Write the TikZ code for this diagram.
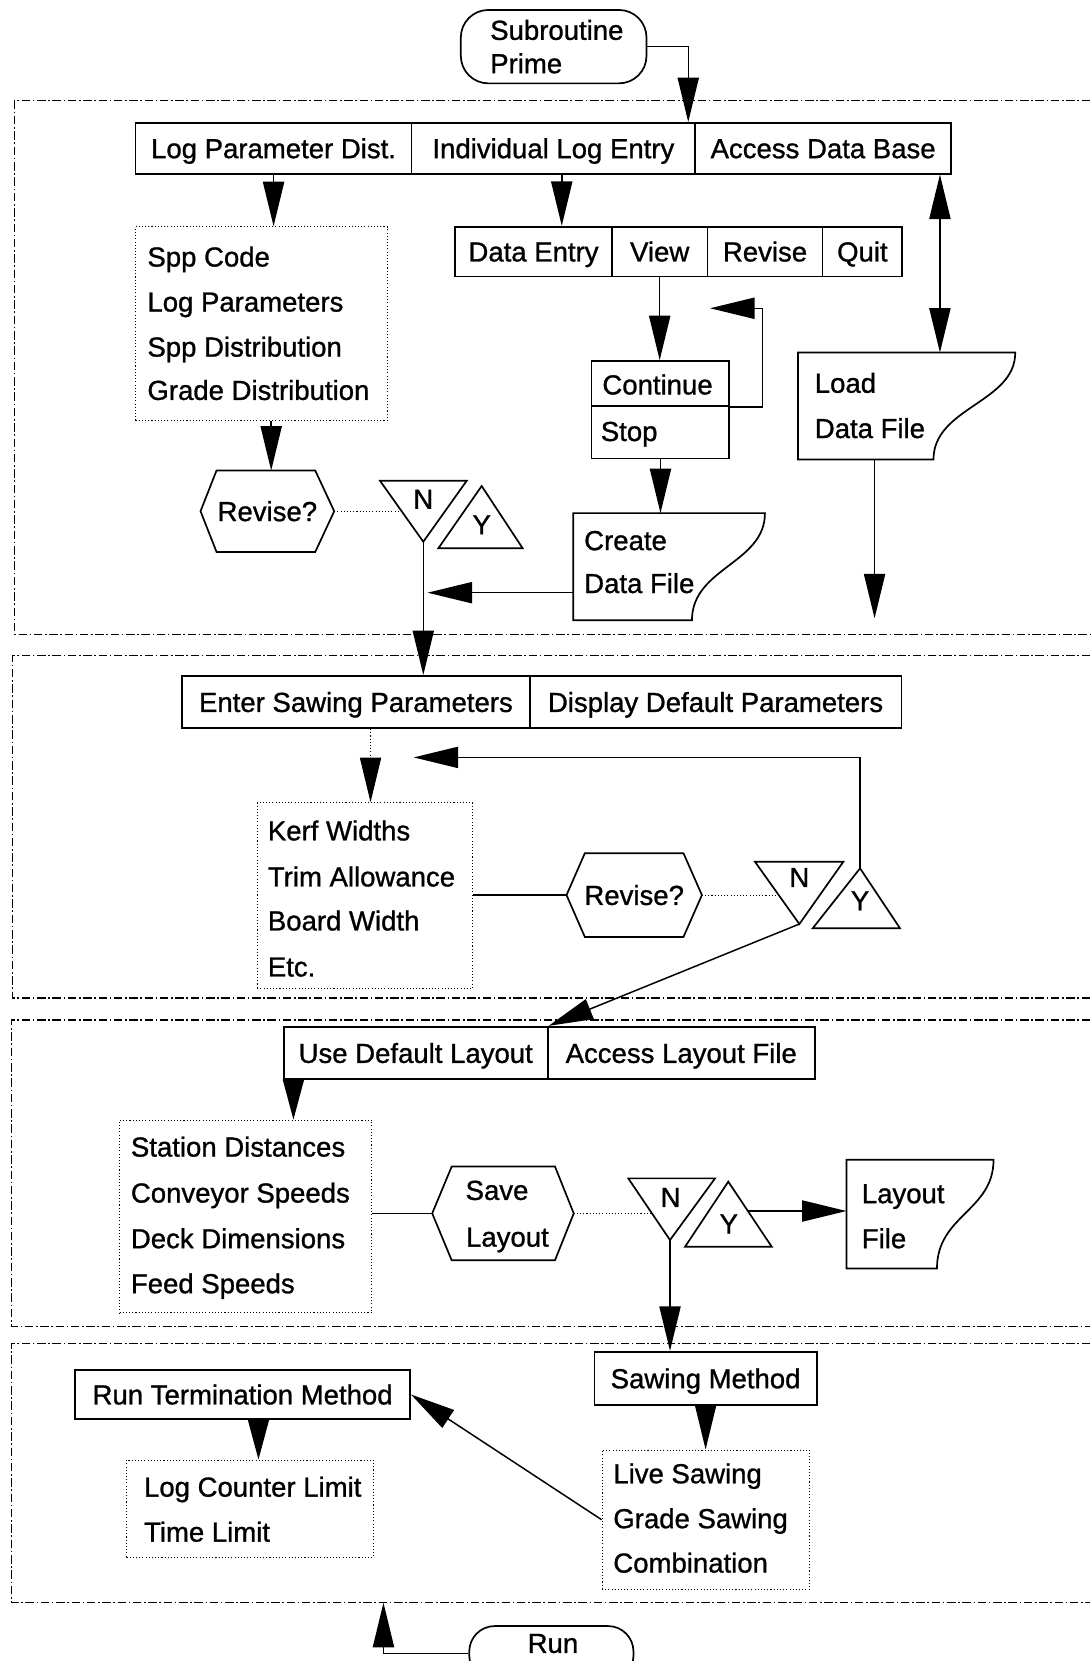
\documentclass[tikz,border=0pt]{standalone}
\usepackage{fontspec}
\setmainfont{Liberation Sans}[FakeBold=1]
\usetikzlibrary{arrows.meta,calc}
\begin{document}
\begin{tikzpicture}[x=1pt,y=-1pt,
  every node/.style={font=\fontsize{26pt}{31pt}\selectfont, inner sep=0pt, text height=18.6pt, text depth=0pt},
  solidline/.style={draw, line width=1.6pt},
  cellbox/.style n args={2}{solidline, minimum width=#1, minimum height=#2},
  listbox/.style n args={2}{draw, line width=0.9pt, dash pattern=on 1pt off 2pt, minimum width=#1, minimum height=#2},
  ghost/.style n args={2}{minimum width=#1, minimum height=#2},
  itemtext/.style={anchor=west},
  region/.style={line width=1.2pt, dash pattern=on 8pt off 2.5pt on 1.5pt off 2.5pt},
  link/.style={line width=1.4pt},
  arr/.style={link, -{Triangle[length=42pt,width=20pt]}},
  shortarr/.style={link, -{Triangle[length=38pt,width=20pt]}},
  dblarr/.style={link, {Triangle[length=42pt,width=20pt]}-{Triangle[length=42pt,width=20pt]}},
  dotlink/.style={line width=1pt, dash pattern=on 1pt off 2pt},
]
\fill[white] (0,0) rectangle (1029,1568);
\useasboundingbox (0,0) rectangle (1029,1568);

% ---------- entry terminal ----------
\node[cellbox={175.3pt}{69.3pt}, rounded corners=26pt] (sub) at (522.65,44.05) {};
\node[itemtext] (subA) at (462.6,28.3) {Subroutine};
\node[itemtext] (subB) at (462.6,59.8) {Prime};

% ---------- dashed regions ----------
\draw[region] (1029,95) -- (14,95) -- (14,599) -- (1029,599);
\draw[region] (1029,619) -- (12,619) -- (12,942) -- (1029,942);
\draw[region] (1029,963) -- (11,963) -- (11,1252) -- (1029,1252);
\draw[region] (1029,1268) -- (11,1268) -- (11,1513) -- (1029,1513);

% ---------- section 1: log data ----------
\node[cellbox={260.5pt}{48pt}] (m1a) at (258.25,140) {Log Parameter Dist.};
\node[cellbox={267.8pt}{48pt}] (m1b) at (522.4,140) {Individual Log Entry};
\node[cellbox={241.5pt}{48pt}] (m1c) at (777.05,140) {Access Data Base};

\node[listbox={237.5pt}{183pt}] (l1) at (246.75,305.5) {};
\node[itemtext] (l1a) at (139,242.3) {Spp Code};
\node[itemtext] (l1b) at (139,284.8) {Log Parameters};
\node[itemtext] (l1c) at (139,327.3) {Spp Distribution};
\node[itemtext] (l1d) at (139,368.2) {Grade Distribution};

\node[cellbox={147.7pt}{47pt}] (m2a) at (503.65,237.5) {Data Entry};
\node[cellbox={90.5pt}{47pt}] (m2b) at (622.75,237.5) {View};
\node[cellbox={108.4pt}{47pt}] (m2c) at (722.2,237.5) {Revise};
\node[cellbox={75.4pt}{47pt}] (m2d) at (814.1,237.5) {Quit};

\node[cellbox={130pt}{42.5pt}] (cont) at (623.5,362.05) {};
\node[itemtext] (contT) at (568.5,363) {Continue};
\node[cellbox={130pt}{49.4pt}] (stop) at (623.5,408) {};
\node[itemtext] (stopT) at (567,407) {Stop};

\node[ghost={180.5pt}{100.7pt}] (create) at (631.65,534.95) {};
\node[itemtext] (createA) at (551.3,510) {Create};
\node[itemtext] (createB) at (551.3,550.5) {Data File};

\node[ghost={204.6pt}{100.6pt}] (load) at (855.9,383.3) {};
\node[itemtext] (loadA) at (769,361.5) {Load};
\node[itemtext] (loadB) at (769,404.2) {Data File};

\node[ghost={125.8pt}{76.4pt}] (rev1) at (252.4,482.6) {Revise?};
\draw[solidline] (358.7,453.8) -- (440.6,453.8) -- (399.6,511.4) coordinate (n1tip) -- cycle;
\draw[solidline] (454.7,458.8) -- (493.4,517.6) -- (413.8,517.6) -- cycle;
\node (nt1) at (399.6,471) {N};
\node (yt1) at (454.7,495) {Y};

% ---------- section 2: sawing parameters ----------
\node[cellbox={328pt}{49.5pt}] (m3a) at (336,662.75) {Enter Sawing Parameters};
\node[cellbox={351pt}{49.5pt}] (m3b) at (675.5,662.75) {Display Default Parameters};

\node[listbox={203.5pt}{175.3pt}] (l2) at (344.55,845.35) {};
\node[itemtext] (l2a) at (252.7,784) {Kerf Widths};
\node[itemtext] (l2b) at (252.7,827.5) {Trim Allowance};
\node[itemtext] (l2c) at (252.7,869) {Board Width};
\node[itemtext] (l2d) at (252.7,912.5) {Etc.};

\node[ghost={127.4pt}{78.7pt}] (rev2) at (598.7,844.95) {Revise?};
\draw[solidline] (712.7,813.5) -- (796.1,813.5) -- (754.6,872.3) coordinate (n2tip) -- cycle;
\draw[solidline] (811.9,819.7) coordinate (y2top) -- (849.6,876.3) -- (767.2,876.3) -- cycle;
\node (nt2) at (754.6,828) {N};
\node (yt2) at (811.9,850) {Y};

% ---------- section 3: layout ----------
\node[cellbox={249.3pt}{49.7pt}] (m4a) at (392.45,994.05) {Use Default Layout};
\node[cellbox={252pt}{49.7pt}] (m4b) at (643.1,994.05) {Access Layout File};

\node[listbox={238.2pt}{181.9pt}] (l3) at (232,1148.25) {};
\node[itemtext] (l3a) at (123.4,1082.5) {Station Distances};
\node[itemtext] (l3b) at (123.4,1125.9) {Conveyor Speeds};
\node[itemtext] (l3c) at (123.4,1169) {Deck Dimensions};
\node[itemtext] (l3d) at (123.4,1211.5) {Feed Speeds};

\node[ghost={133.2pt}{88.1pt}] (sav) at (474.8,1145.45) {};
\node (savA) at (469.2,1123.4) {Save};
\node (savB) at (479,1167.5) {Layout};

\draw[solidline] (593.1,1112.4) -- (675,1112.4) -- (632.5,1170.6) coordinate (n3tip) -- cycle;
\draw[solidline] (687.5,1115.5) -- (728.5,1176.9) -- (646.7,1176.9) -- cycle;
\node (nt3) at (633,1130) {N};
\node (yt3) at (688,1155) {Y};

\node[ghost={138.4pt}{102.3pt}] (layfile) at (868.5,1146.15) {};
\node[itemtext] (layA) at (813.4,1126.5) {Layout};
\node[itemtext] (layB) at (813.4,1169) {File};

% ---------- section 4: sawing and termination ----------
\node[cellbox={316.3pt}{46.3pt}] (rtm) at (229.05,1316.45) {Run Termination Method};
\node[cellbox={210pt}{50.4pt}] (sm) at (666.1,1301.2) {Sawing Method};

\node[listbox={233pt}{91.9pt}] (l4) at (235.9,1424.25) {};
\node[itemtext] (l4a) at (135.8,1403.5) {Log Counter Limit};
\node[itemtext] (l4b) at (135.8,1446) {Time Limit};

\node[listbox={196.2pt}{131.5pt}] (l5) at (666.4,1434.55) {};
\node[itemtext] (l5a) at (578.8,1390.9) {Live Sawing};
\node[itemtext] (l5b) at (578.8,1433.3) {Grade Sawing};
\node[itemtext] (l5c) at (578.8,1475.2) {Combination};

% ---------- exit terminal (runs off the lower edge) ----------
\node[cellbox={155pt}{52pt}, rounded corners=24pt] (run) at (520.5,1561) {};
\node (runT) at (522,1551) {Run};

% ---------- hexagon and file outlines ----------
\foreach \h/\a/\b in {rev1/15.1/17.9, rev2/17.3/17.4, sav/18.4/17.7}
  \draw[solidline] (\h.west) -- ([xshift=\a]\h.north west) -- ([xshift=-\b]\h.north east)
    -- (\h.east) -- ([xshift=-\b]\h.south east) -- ([xshift=\a]\h.south west) -- cycle;

\foreach \f/\e in {create/68.9, load/77.2, layfile/53.4}
  \draw[solidline] (\f.south west) -- (\f.north west) -- (\f.north east)
    .. controls ($(\f.north east)!0.47!(\f.south east)$) and ($(\f.south east)!0.49!(\f.north east)+(-\e,0)$)
    .. ([xshift=-\e]\f.south east) -- cycle;

% ---------- connectors ----------
\coordinate (subx) at (649.7,0);
\draw[arr] (sub.east) -| (m1b.north -| subx);

\draw[arr] (m1a.south) -- (m1a.south |- l1.north);
\coordinate (bx) at (530.3,0);
\draw[arr] (m1b.south -| bx) -- (m2a.north -| bx);
\coordinate (fx) at (887.3,0);
\draw[dblarr] (m1c.south -| fx) -- (load.north -| fx);
\coordinate (gend) at (825.6,583.7);
\draw[arr] (load.south -| gend) -- (gend);

\draw[arr] (m2b.south) -- (m2b.south |- cont.north);
\coordinate (loopx) at (720,0);
\coordinate (loopend) at (670.3,291);
\draw[arr] (cont.south east) -- (cont.south east -| loopx) |- (loopend);
\draw[arr] (stop.south) -- (stop.south |- create.north);

\coordinate (ax) at (256,0);
\draw[arr] (l1.south -| ax) -- (rev1.north -| ax);
\coordinate (n1side) at (379.4,482.6);
\draw[dotlink] (rev1.east) -- (n1side);
\coordinate (eend) at (403.6,559.5);
\draw[arr] (eend -| create.west) -- (eend);
\draw[arr] (n1tip) -- (n1tip |- m3a.north);

\coordinate (dx) at (349.8,0);
\draw[dotlink, -{Triangle[length=42pt,width=20pt]}] (m3a.south -| dx) -- (l2.north -| dx);
\draw[link] (l2.east |- rev2.west) -- (rev2.west);
\coordinate (n2side) at (734.4,844.95);
\draw[dotlink] (rev2.east) -- (n2side);
\coordinate (l2end) at (390.5,715);
\draw[arr] (y2top) |- (l2end);
\draw[arr] (n2tip) -- (m4a.north east);

\coordinate (hx) at (277,0);
\draw[shortarr] (m4a.south -| hx) -- (l3.north -| hx);
\draw[link] (l3.east |- sav.west) -- (sav.west);
\coordinate (n3side) at (616.5,1145.45);
\draw[dotlink] (sav.east) -- (n3side);
\coordinate (y3r) at (706,1143.2);
\draw[arr] (y3r) -- (layfile.west |- y3r);
\draw[arr] (n3tip) -- (n3tip |- sm.north);

\coordinate (kx) at (244,0);
\draw[shortarr] (rtm.south -| kx) -- (l4.north -| kx);
\draw[arr] (sm.south) -- (sm.south |- l5.north);
\draw[arr] (l5.west) -- (rtm.east);

\coordinate (runend) at (362,1513);
\draw[arr] (run.west) -| (runend);
\end{tikzpicture}
\end{document}
